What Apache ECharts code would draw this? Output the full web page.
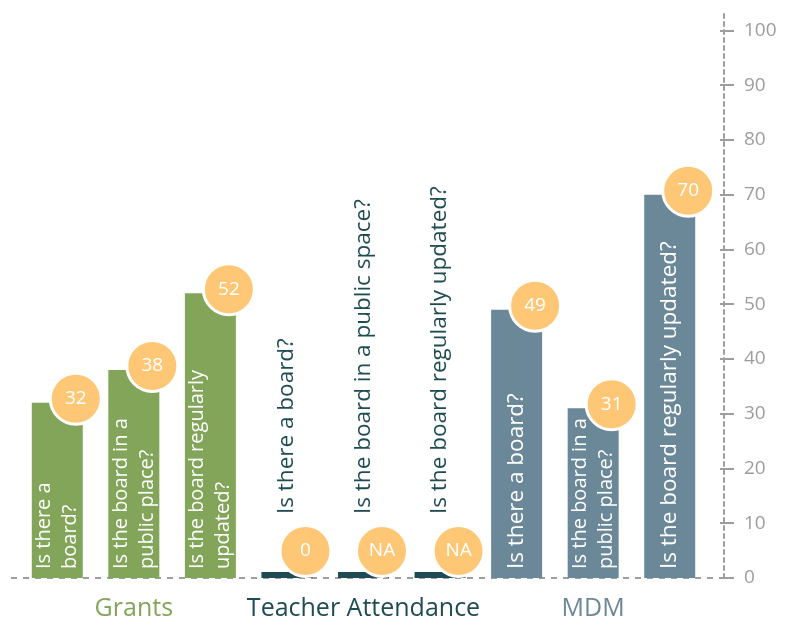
<!DOCTYPE html>
<html>
<head>
<meta charset="utf-8">
<script src="https://cdn.jsdelivr.net/npm/echarts@6/dist/echarts.min.js"></script>
<style>
html, body { margin: 0; padding: 0; background: #fff; }
#chart { width: 793px; height: 622px; }
</style>
</head>
<body>
<div id="chart"></div>
<script>
// one entry per bar
const questions = [
  "Is there a\nboard?",
  "Is the board in a\npublic place?",
  "Is the board regularly\nupdated?",
  "Is there a board?",
  "Is the board in a public space?",
  "Is the board regularly updated?",
  "Is there a board?",
  "Is the board in a\npublic place?",
  "Is the board regularly updated?"
];
const groupOf = [0, 0, 0, 1, 1, 1, 2, 2, 2];
const values = [32, 38, 52, 0, null, null, 49, 31, 70]; // null = NA
const groups = ["Grants", "Teacher Attendance", "MDM"];
const yTicks = [0, 10, 20, 30, 40, 50, 60, 70, 80, 90, 100];

const groupColors = ["#82a55a", "#1f4b52", "#6b8898"];
const badgeColor = "#fec776";
const axisGray = "#9d9d9d";
const font = "'Open Sans', 'Noto Sans', sans-serif";

function renderItem(params, api) {
  const i = params.dataIndex;
  const v = values[i];
  const base = api.coord([i, 0]);
  const top = api.coord([i, v == null ? 0 : v]);
  const w = 51;
  const x0 = base[0] - w / 2;
  const h = Math.max(base[1] - top[1], 6);
  const ty = base[1] - h;
  const inside = v != null && v > 5;
  const color = groupColors[groupOf[i]];
  const twoLines = questions[i].indexOf("\n") >= 0;
  const cx = x0 + w - 7;
  const cy = Math.min(ty - 4, base[1] - 27);
  return {
    type: "group",
    children: [
      { type: "rect", shape: { x: x0, y: ty, width: w, height: h }, style: { fill: color } },
      {
        type: "text",
        x: base[0],
        y: inside ? base[1] - 9 : base[1] - 64,
        rotation: Math.PI / 2,
        style: {
          text: questions[i],
          fill: inside ? "#fff" : color,
          font: (twoLines ? "20px " : "22.5px ") + font,
          lineHeight: 26,
          align: "left",
          verticalAlign: "middle"
        }
      },
      {
        type: "circle",
        shape: { cx: cx, cy: cy, r: 25.5 },
        style: { fill: badgeColor, stroke: "#fff", lineWidth: 3 }
      },
      {
        type: "text",
        x: cx,
        y: cy,
        style: {
          text: v == null ? "NA" : String(v),
          fill: "#fff",
          font: "19px " + font,
          align: "center",
          verticalAlign: "middle"
        }
      }
    ]
  };
}

const chart = echarts.init(document.getElementById("chart"));
const option = {
  animation: false,
  grid: { left: 19, right: 85, top: 14, bottom: 44 },
  xAxis: {
    type: "category",
    data: questions.map((q, i) => String(i)),
    axisLine: { show: false },
    axisTick: { show: false },
    axisLabel: {
      interval: 0,
      margin: 18,
      formatter: function (val, idx) {
        if (idx % 3 !== 1) return "";
        const g = Math.floor(idx / 3);
        return "{g" + g + "|" + groups[g] + "}";
      },
      rich: {
        g0: { color: groupColors[0], fontSize: 25, fontFamily: font },
        g1: { color: groupColors[1], fontSize: 25, fontFamily: font },
        g2: { color: groupColors[2], fontSize: 25, fontFamily: font }
      }
    }
  },
  yAxis: [
    {
      type: "value",
      position: "right",
      offset: 16,
      min: 0,
      max: 103,
      splitLine: { show: false },
      axisLine: { show: true, lineStyle: { color: axisGray, width: 2, type: [4, 4] } },
      axisTick: { show: true, customValues: yTicks, length: 10, lineStyle: { color: axisGray, width: 2 } },
      axisLabel: { customValues: yTicks, margin: 20, color: axisGray, fontSize: 19, fontFamily: font }
    },
    {
      type: "value",
      position: "right",
      offset: 16,
      min: 0,
      max: 103,
      splitLine: { show: false },
      axisLine: { show: false },
      axisTick: { show: true, inside: true, customValues: yTicks, length: 4, lineStyle: { color: axisGray, width: 2 } },
      axisLabel: { show: false }
    }
  ],
  series: [
    {
      type: "custom",
      yAxisIndex: 0,
      renderItem: renderItem,
      data: values.map((v, i) => [i, v == null ? 0 : v]),
      z: 5
    }
  ]
};
chart.setOption(option);

// dashed baseline running under the bars to the axis
const y0 = chart.convertToPixel({ yAxisIndex: 0 }, 0);
chart.setOption({
  graphic: [
    {
      type: "line",
      z: 1,
      shape: { x1: 11, y1: y0, x2: 724, y2: y0 },
      style: { stroke: axisGray, lineWidth: 2, lineDash: [6, 6] }
    }
  ]
});
</script>
</body>
</html>
